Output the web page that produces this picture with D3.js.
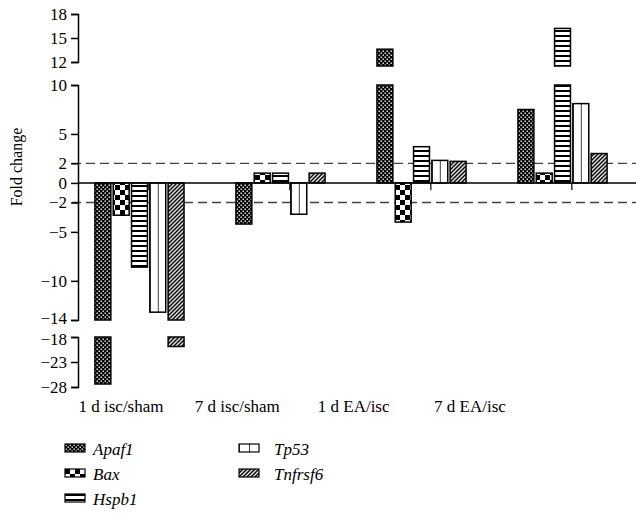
<!DOCTYPE html>
<meta charset="utf-8">
<script src="https://d3js.org/d3.v7.min.js"></script>
<style>
  body { margin: 0; background: #fff; }
</style>
<div id="chart"></div>
<script>
// chart data
var categories = ["1 d isc/sham", "7 d isc/sham", "1 d EA/isc", "7 d EA/isc"];
var genes = ["Apaf1", "Bax", "Hspb1", "Tp53", "Tnfrsf6"];
var apaf1   = [-27.4, -4.2, 13.6, 7.5];
var bax     = [-3.3, 1.0, -4.0, 1.0];
var hspb1   = [-8.6, 1.0, 3.7, 16.2];
var tp53    = [-13.2, -3.2, 2.3, 8.1];
var tnfrsf6 = [-19.9, 1.0, 2.2, 3.0];
var topTicks = [18, 15, 12];
var midTicks = [10, 5, 2, 0, -2, -5, -10, -14];
var lowTicks = [-18, -23, -28];
var thresholds = [2, -2];

var series = [apaf1, bax, hspb1, tp53, tnfrsf6];
var fills = ["url(#p-apaf)", "url(#p-bax)", "url(#p-hspb)", "url(#p-tp53)", "url(#p-tnf)"];
var serif = "'Liberation Serif', 'Times New Roman', serif";

var width = 636, height = 515;
var axisX = 78;

var svg = d3.select("#chart").append("svg")
  .attr("width", width)
  .attr("height", height)
  .attr("font-family", serif);

// patterns
var defs = svg.append("defs");

var pa = defs.append("pattern").attr("id", "p-apaf")
  .attr("patternUnits", "userSpaceOnUse").attr("width", 4).attr("height", 4);
pa.append("rect").attr("width", 4).attr("height", 4).attr("fill", "#000");
pa.append("rect").attr("x", 0.5).attr("y", 0.5).attr("width", 1.4).attr("height", 1.4).attr("fill", "#fff");
pa.append("rect").attr("x", 2.5).attr("y", 2.5).attr("width", 1.4).attr("height", 1.4).attr("fill", "#fff");

var pb = defs.append("pattern").attr("id", "p-bax")
  .attr("patternUnits", "userSpaceOnUse").attr("width", 10).attr("height", 10);
pb.append("rect").attr("width", 10).attr("height", 10).attr("fill", "#fff");
pb.append("rect").attr("width", 5).attr("height", 5).attr("fill", "#000");
pb.append("rect").attr("x", 5).attr("y", 5).attr("width", 5).attr("height", 5).attr("fill", "#000");

var ph = defs.append("pattern").attr("id", "p-hspb")
  .attr("patternUnits", "userSpaceOnUse").attr("width", 5).attr("height", 5);
ph.append("rect").attr("width", 5).attr("height", 5).attr("fill", "#fff");
ph.append("rect").attr("width", 5).attr("height", 2).attr("fill", "#000");

var pt = defs.append("pattern").attr("id", "p-tp53")
  .attr("patternUnits", "objectBoundingBox").attr("width", 0.5).attr("height", 1);
pt.append("rect").attr("width", 100).attr("height", 1000).attr("fill", "#fff");
pt.append("rect").attr("x", -0.75).attr("width", 1.5).attr("height", 1000).attr("fill", "#000");

var pn = defs.append("pattern").attr("id", "p-tnf")
  .attr("patternUnits", "userSpaceOnUse").attr("width", 4).attr("height", 4);
pn.append("rect").attr("width", 4).attr("height", 4).attr("fill", "#ddd");
pn.append("path").attr("d", "M-1,1 l2,-2 M0,4 l4,-4 M3,5 l2,-2")
  .attr("stroke", "#000").attr("stroke-width", 1.3);

// broken y axis: three segments
var segments = [
  {lo: 11.5, hi: 18, axisLo: 12, y: d3.scaleLinear().domain([12, 18]).range([62, 14]), ticks: topTicks},
  {lo: -14, hi: 10, axisLo: -14, y: d3.scaleLinear().domain([-14, 10]).range([320, 85]), ticks: midTicks},
  {lo: -28, hi: -18, axisLo: -28, y: d3.scaleLinear().domain([-28, -18]).range([387, 337]), ticks: lowTicks}
];
var yMain = segments[1].y;

// x scales
var x0 = d3.scaleBand().domain(categories).range([axisX, 624])
  .paddingInner(0.368).paddingOuter(0.12);
var x1 = d3.scaleBand().domain(genes).range([0, x0.bandwidth()]).paddingInner(0.13);
var xLabel = d3.scalePoint().domain(categories).range([121, 470]);

// threshold dashed lines
svg.selectAll(".thr").data(thresholds).enter().append("line")
  .attr("x1", 72).attr("x2", width)
  .attr("y1", function(d) { return yMain(d); })
  .attr("y2", function(d) { return yMain(d); })
  .attr("stroke", "#444").attr("stroke-width", 1.4)
  .attr("stroke-dasharray", "9,5");

// bars, one piece per axis segment
var pieces = [];
series.forEach(function(vals, gi) {
  vals.forEach(function(v, ci) {
    var a = Math.min(0, v), b = Math.max(0, v);
    segments.forEach(function(s) {
      var lo = Math.max(a, s.lo), hi = Math.min(b, s.hi);
      if (hi > lo) pieces.push({g: gi, c: ci, lo: lo, hi: hi, s: s});
    });
  });
});

svg.append("g").selectAll("rect").data(pieces).enter().append("rect")
  .attr("x", function(d) { return x0(categories[d.c]) + x1(genes[d.g]); })
  .attr("width", x1.bandwidth())
  .attr("y", function(d) { return d.s.y(d.hi); })
  .attr("height", function(d) { return d.s.y(d.lo) - d.s.y(d.hi); })
  .attr("fill", function(d) { return fills[d.g]; })
  .attr("stroke", "#000").attr("stroke-width", 1.5);

// zero line and x ticks
svg.append("line")
  .attr("x1", axisX).attr("x2", width)
  .attr("y1", yMain(0)).attr("y2", yMain(0))
  .attr("stroke", "#000").attr("stroke-width", 1.5);

svg.selectAll(".xtick").data(categories).enter().append("line")
  .attr("x1", function(d) { return x0(d) + x1("Tp53") - 1; })
  .attr("x2", function(d) { return x0(d) + x1("Tp53") - 1; })
  .attr("y1", yMain(0)).attr("y2", yMain(0) + 7)
  .attr("stroke", "#000").attr("stroke-width", 1.2);

// y axis segments
segments.forEach(function(s) {
  var g = svg.append("g").attr("transform", "translate(" + axisX + ",0)");
  var ax = d3.axisLeft(s.y.copy().domain([s.axisLo, s.y.domain()[1]]).range([s.y(s.axisLo), s.y.range()[1]]))
    .tickValues(s.ticks)
    .tickSize(7)
    .tickPadding(4)
    .tickFormat(function(d) { return d < 0 ? "\u2212" + Math.abs(d) : d; });
  g.call(ax);
  g.attr("font-family", serif).attr("font-size", 17);
  g.select(".domain").attr("stroke-width", 1.5);
  g.selectAll(".tick line").attr("stroke-width", 1.5);
  g.selectAll(".tick text")
    .attr("fill", "#000")
    .attr("dy", function(d) { return d === -14 ? "0.2em" : d === -18 ? "0.42em" : "0.32em"; });
});

// y label
svg.append("text")
  .attr("transform", "translate(22,167) rotate(-90)")
  .attr("text-anchor", "middle")
  .attr("font-size", 16)
  .text("Fold change");

// category labels
svg.selectAll(".cat").data(categories).enter().append("text")
  .attr("x", function(d) { return xLabel(d); })
  .attr("y", 412)
  .attr("text-anchor", "middle")
  .attr("font-size", 17)
  .text(function(d) { return d; });

// legend
var leg = svg.append("g").selectAll("g").data(genes).enter().append("g")
  .attr("transform", function(d, i) {
    var col = Math.floor(i / 3), row = i % 3;
    return "translate(" + (col === 0 ? 65 : 239) + "," + (444 + row * 25) + ")";
  });
leg.append("rect")
  .attr("width", 20).attr("height", 8)
  .attr("fill", function(d, i) { return fills[i]; })
  .attr("stroke", "#000").attr("stroke-width", 1.2);
leg.append("text")
  .attr("x", function(d, i) { return i < 3 ? 28 : 35; })
  .attr("y", 11)
  .attr("font-size", 17)
  .attr("font-style", "italic")
  .text(function(d) { return d; });
</script>
